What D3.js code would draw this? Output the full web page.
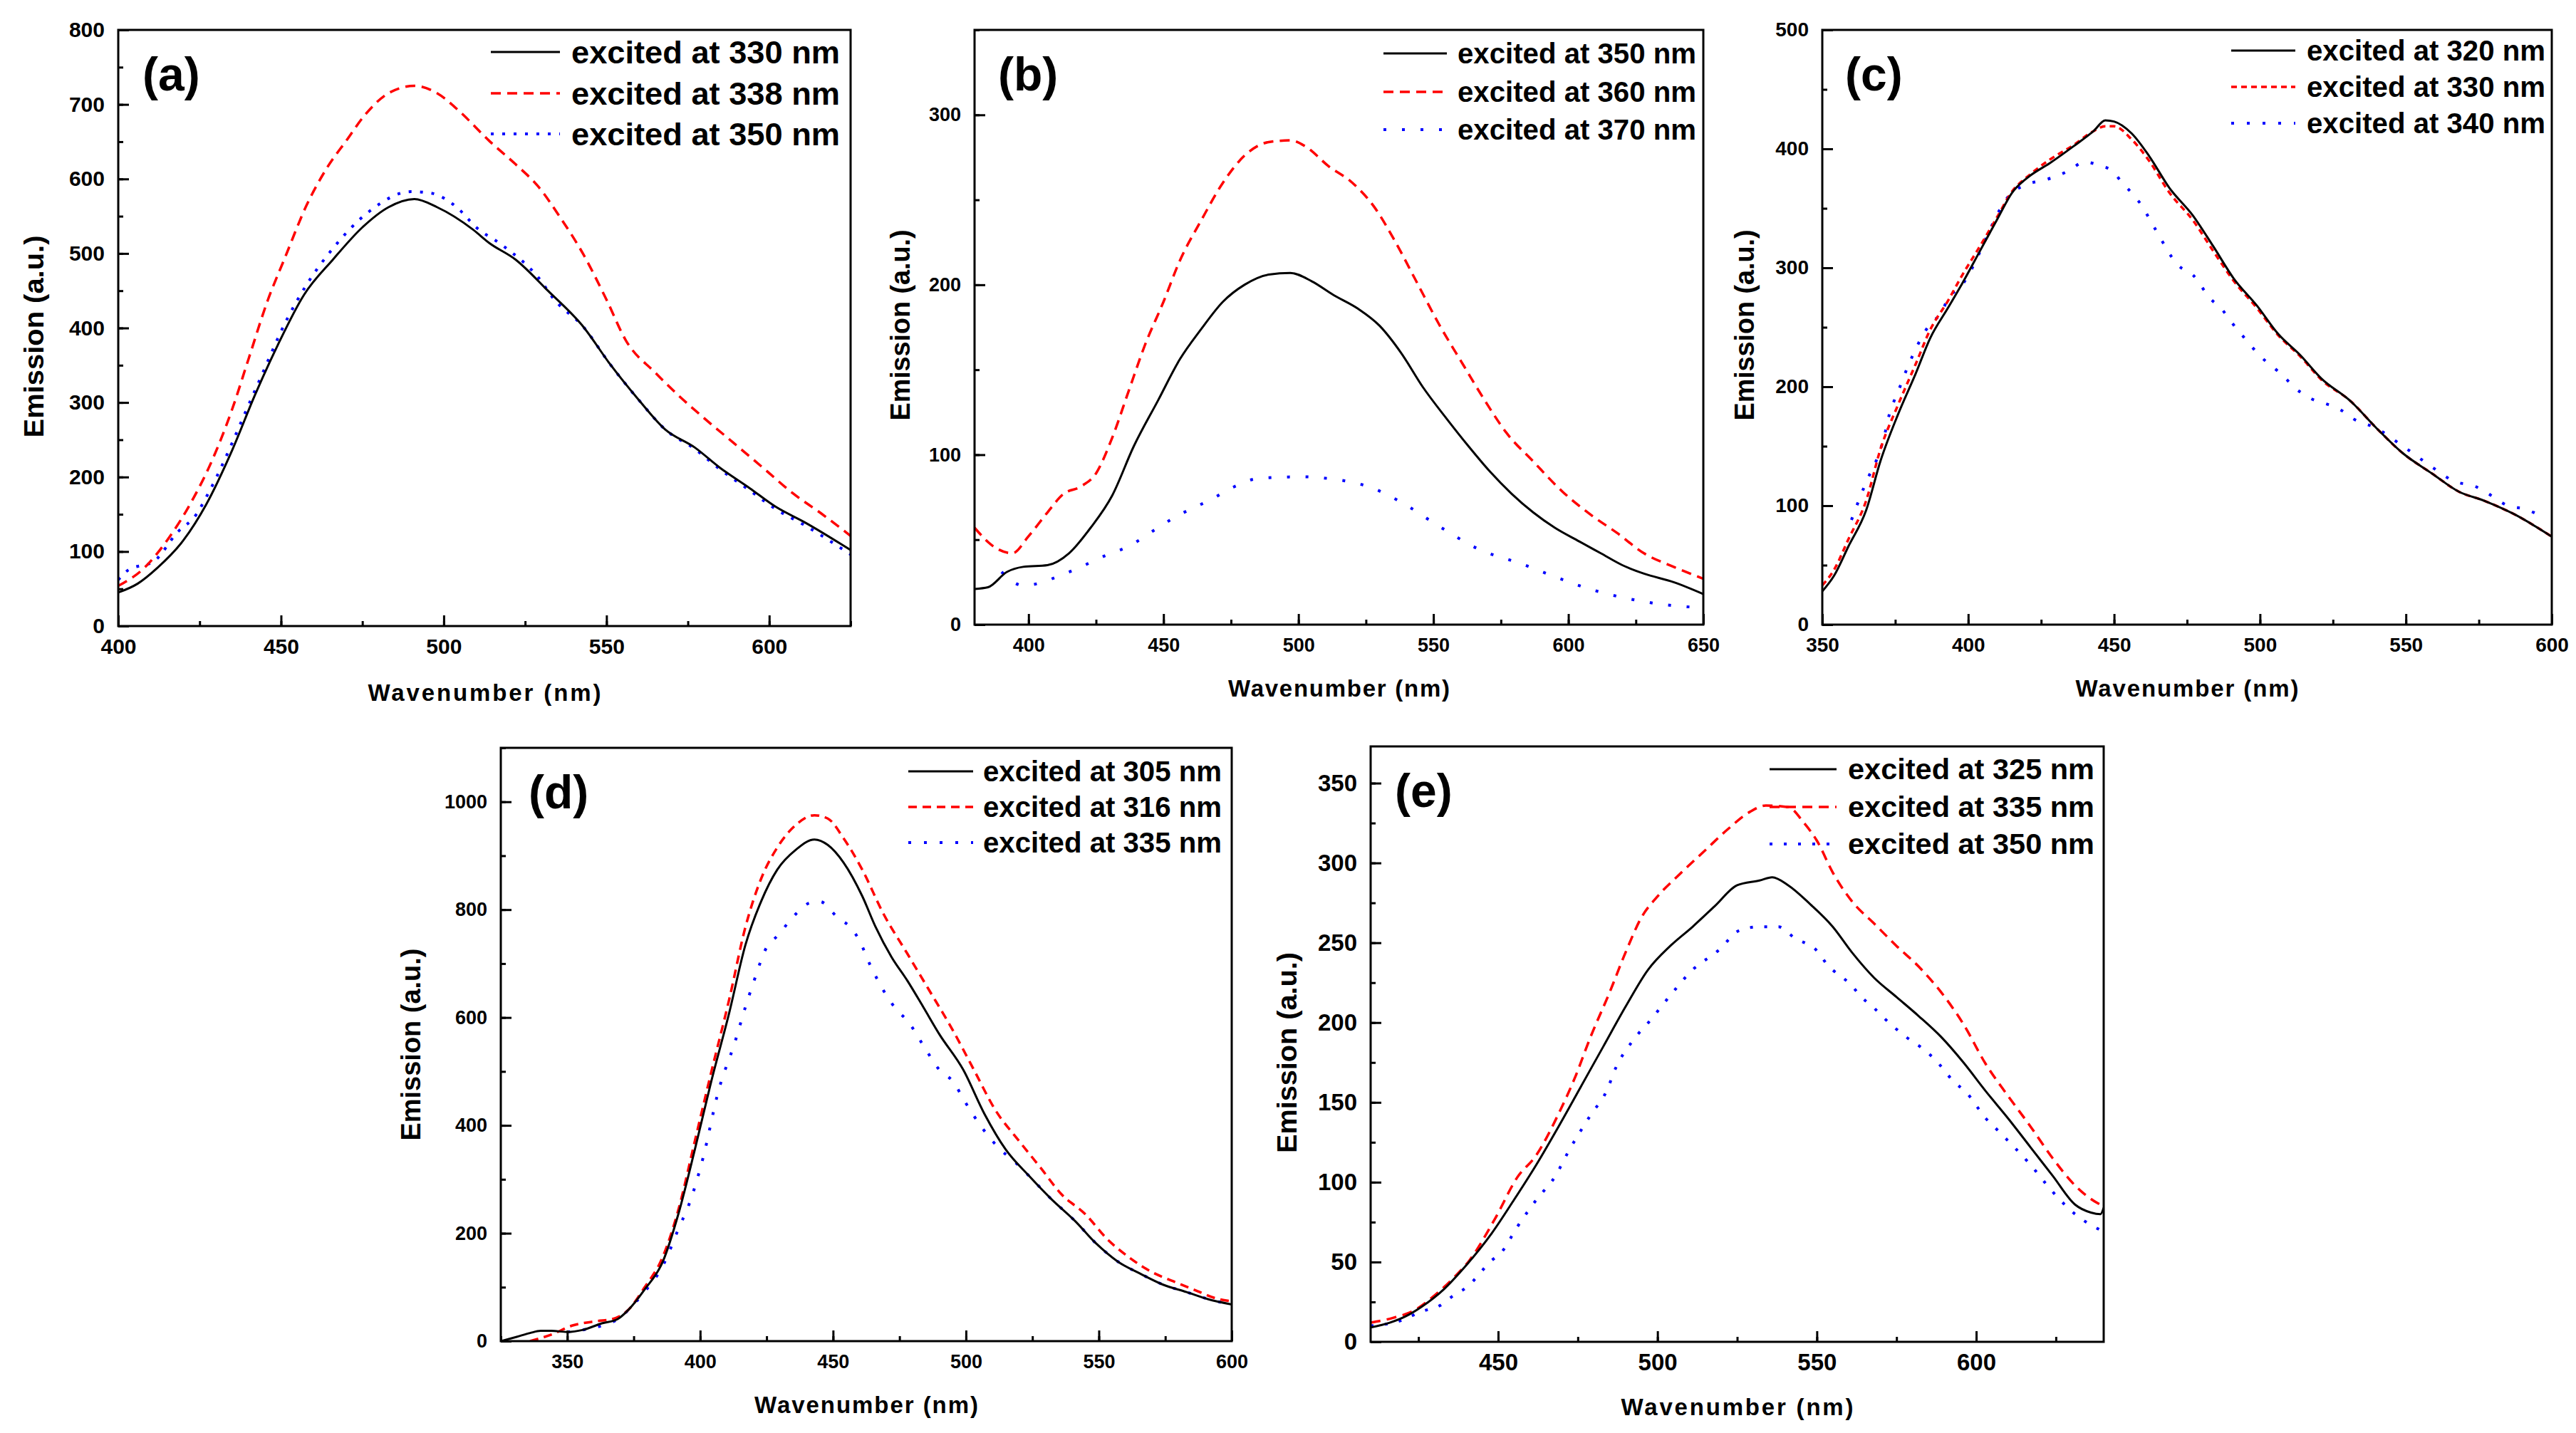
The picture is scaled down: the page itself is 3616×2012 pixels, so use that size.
<!DOCTYPE html>
<html>
<head>
<meta charset="utf-8">
<script src="https://cdnjs.cloudflare.com/ajax/libs/d3/7.8.5/d3.min.js"></script>
<style>
  body { margin: 0; background: #fff; }
  svg text { font-family: "Liberation Sans", Arial, sans-serif; font-weight: bold; fill: #000; }
</style>
</head>
<body>
<svg id="chart"></svg>
<script>
// ---- data: [wavelength nm, emission a.u.] ----

// (a)
var aNames = ["excited at 330 nm", "excited at 338 nm", "excited at 350 nm"];
var a330 = [[400,45],[406,57],[412,78],[420,115],[427,163],[435,236],[442,310],[449,377],[457,444],[466,492],[475,535],[483,562],[491,573],[498,562],[509,532],[514,514],[522,492],[532,450],[543,401],[551,352],[560,303],[568,264],[577,240],[585,212],[594,185],[602,160],[611,139],[625,102]];
var a338 = [[400,54],[408,78],[415,115],[422,163],[429,224],[435,291],[440,358],[446,438],[451,492],[458,566],[464,614],[470,651],[476,687],[483,715],[491,725],[498,715],[505,690],[514,651],[522,620],[529,590],[536,547],[543,498],[550,438],[556,383],[565,340],[572,310],[580,279],[589,246],[599,209],[607,179],[616,151],[625,121]];
var a350 = [[400,62],[403,75],[411,87],[418,125],[424,150],[428,181],[442,316],[452,413],[458,459],[466,507],[477,556],[490,583],[496,581],[504,562],[510,535],[518,511],[529,468],[534,438],[543,401],[551,352],[560,303],[568,264],[577,238],[585,210],[594,182],[602,157],[611,135],[625,96]];
var aXTicks = [400, 450, 500, 550, 600];
var aYTicks = [0, 100, 200, 300, 400, 500, 600, 700, 800];

// (b)
var bNames = ["excited at 350 nm", "excited at 360 nm", "excited at 370 nm"];
var b350 = [[380,21],[385,22],[392,31],[398,34],[407,35],[415,42],[423,57],[431,76],[439,105],[448,132],[456,156],[464,174],[472,190],[480,200],[489,206],[497,207],[505,202],[513,194],[522,186],[530,176],[538,160],[546,140],[555,121],[563,105],[571,90],[579,77],[587,66],[595,57],[604,49],[612,42],[620,35],[628,30],[639,25],[650,18]];
var b360 = [[380,57],[388,45],[394,42],[400,52],[407,66],[413,77],[419,81],[425,89],[431,110],[437,137],[443,164],[450,190],[456,214],[464,238],[472,260],[480,276],[489,284],[497,285],[503,281],[511,270],[520,260],[528,246],[536,225],[544,201],[552,177],[561,153],[569,132],[577,113],[587,96],[598,78],[608,65],[618,54],[628,42],[639,34],[650,27]];
var b370 = [[390,31],[398,23],[415,31],[429,41],[437,46],[446,55],[454,63],[468,74],[476,81],[485,86],[501,87],[511,86],[528,80],[537,73],[553,57],[566,45],[584,35],[592,30],[610,20],[623,15],[640,11],[650,10]];
var bXTicks = [400, 450, 500, 550, 600, 650];
var bYTicks = [0, 100, 200, 300];

// (c)
var cNames = ["excited at 320 nm", "excited at 330 nm", "excited at 340 nm"];
var c320 = [[350,28],[354,41],[359,66],[365,96],[370,138],[376,177],[382,211],[387,241],[393,266],[398,287],[404,314],[410,341],[415,363],[421,377],[428,388],[436,402],[443,415],[447,424],[450,423],[456,413],[462,394],[469,367],[477,344],[484,318],[491,291],[499,268],[506,245],[514,226],[521,207],[531,188],[540,165],[549,144],[559,127],[568,112],[577,104],[587,93],[600,74]];
var c330 = [[350,33],[354,46],[359,72],[365,104],[370,148],[376,185],[382,219],[387,248],[393,272],[398,294],[404,318],[410,343],[415,364],[421,378],[428,391],[436,403],[443,415],[447,419],[450,419],[456,408],[462,390],[469,363],[477,340],[484,314],[491,289],[499,266],[506,244],[514,225],[521,206],[531,188],[540,165],[549,144],[559,127],[568,112],[577,104],[587,93],[600,74]];
var c340 = [[360,88],[366,125],[368,135],[371,156],[373,177],[376,196],[379,215],[387,253],[391,263],[393,274],[397,283],[415,363],[421,371],[425,373],[434,381],[440,389],[445,386],[449,382],[453,371],[456,363],[459,354],[464,333],[472,302],[477,294],[483,274],[487,265],[490,255],[494,243],[500,226],[508,209],[512,199],[516,192],[528,180],[532,173],[540,165],[549,150],[561,129],[566,121],[574,116],[577,112],[585,100],[591,97],[598,89]];
var cXTicks = [350, 400, 450, 500, 550, 600];
var cYTicks = [0, 100, 200, 300, 400, 500];

// (d)
var dNames = ["excited at 305 nm", "excited at 316 nm", "excited at 335 nm"];
var d305 = [[325,0],[331,8],[336,15],[340,19],[344,19],[350,17],[356,21],[363,33],[369,41],[373,58],[379,95],[386,148],[392,239],[398,355],[404,478],[411,610],[417,734],[423,816],[429,874],[436,911],[443,930],[448,920],[454,887],[461,825],[466,768],[472,712],[478,668],[484,619],[490,569],[499,503],[507,421],[515,355],[524,305],[532,264],[541,223],[549,181],[557,148],[566,124],[574,105],[583,91],[591,78],[600,68]];
var d316 = [[336,0],[344,12],[352,29],[361,37],[367,41],[373,58],[379,99],[386,157],[392,247],[398,371],[404,495],[411,635],[417,767],[423,858],[429,915],[436,957],[443,975],[448,969],[454,932],[461,874],[469,792],[478,718],[486,652],[495,577],[503,503],[511,429],[520,371],[528,322],[536,272],[545,235],[553,190],[562,153],[570,128],[578,111],[586,95],[595,78],[600,74]];
var d335 = [[350,17],[369,40],[373,58],[379,91],[386,140],[392,210],[396,256],[401,338],[407,466],[413,553],[417,619],[420,664],[425,730],[429,751],[436,792],[441,812],[445,815],[452,784],[457,765],[460,742],[464,697],[474,614],[478,594],[484,548],[490,503],[495,482],[500,441],[506,396],[513,355],[518,334],[524,305],[532,264],[541,223],[549,181],[557,148],[566,124],[574,105],[583,91],[591,78],[600,68]];
var dXTicks = [350, 400, 450, 500, 550, 600];
var dYTicks = [0, 200, 400, 600, 800, 1000];

// (e)
var eNames = ["excited at 325 nm", "excited at 335 nm", "excited at 350 nm"];
var e325 = [[410,9],[416,12],[421,16],[426,22],[433,33],[440,48],[448,68],[455,89],[462,111],[469,135],[476,160],[483,185],[490,210],[497,233],[504,248],[511,260],[518,273],[525,286],[532,289],[536,291],[541,286],[548,274],[555,260],[561,244],[568,228],[575,216],[582,204],[589,191],[596,175],[603,157],[610,140],[617,122],[624,104],[631,86],[636,81],[639,80],[640,84]];
var e335 = [[410,12],[417,15],[424,20],[430,29],[436,40],[441,51],[449,77],[456,103],[462,117],[469,143],[474,165],[479,191],[485,219],[490,244],[495,266],[500,279],[507,293],[515,308],[522,321],[529,332],[534,336],[541,335],[546,325],[550,314],[555,294],[561,276],[568,262],[575,248],[582,235],[589,219],[596,199],[603,174],[610,154],[617,135],[624,115],[631,98],[638,87],[640,85]];
var e350 = [[410,10],[419,13],[426,19],[432,23],[436,29],[440,34],[448,51],[451,56],[456,72],[462,89],[468,104],[472,119],[479,142],[484,157],[487,172],[492,188],[498,202],[504,217],[511,233],[519,245],[526,258],[532,260],[538,260],[543,253],[550,245],[553,237],[561,223],[564,216],[568,209],[571,203],[578,191],[583,184],[587,177],[593,163],[597,156],[603,140],[607,132],[617,111],[624,94],[631,80],[639,70]];
var eXTicks = [450, 500, 550, 600];
var eYTicks = [0, 50, 100, 150, 200, 250, 300, 350];

var W = 3616, H = 2012;

var svg = d3.select("#chart")
  .attr("width", W)
  .attr("height", H);

svg.append("rect").attr("width", W).attr("height", H).attr("fill", "#fff");

// layout of each panel (pixel boxes measured on the reference)
var panels = [
  { tag: "(a)", box: [166, 42, 1194, 879], xDom: [400, 625], yDom: [0, 800],
    xTicks: aXTicks, xMinor: 25, yTicks: aYTicks, yMinor: 50, tickFont: 30,
    series: [a330, a338, a350], names: aNames,
    redDash: "14,9", blueDash: "4,12",
    leg: { l0: -505, l1: -408, tx: -392, tl: 377, rows: [31, 89, 146], font: 45 },
    yt: { off: 118, dy: 12, len: 284 }, xt: { dy: 93, len: 327 }, tagDx: 34 },
  { tag: "(b)", box: [1368, 42, 2391, 877], xDom: [380, 650], yDom: [0, 350],
    xTicks: bXTicks, xMinor: 25, yTicks: bYTicks, yMinor: 50, tickFont: 27,
    series: [b350, b360, b370], names: bNames,
    redDash: "14,9", blueDash: "4,22",
    leg: { l0: -449, l1: -360, tx: -345, tl: 335, rows: [33, 87, 140], font: 40 },
    yt: { off: 104, dy: -3, len: 268 }, xt: { dy: 89, len: 311 }, tagDx: 33 },
  { tag: "(c)", box: [2558, 42, 3582, 877], xDom: [350, 600], yDom: [0, 500],
    xTicks: cXTicks, xMinor: 25, yTicks: cYTicks, yMinor: 50, tickFont: 28,
    series: [c320, c330, c340], names: cNames,
    redDash: "8,6", blueDash: "4,18",
    leg: { l0: -450, l1: -360, tx: -344, tl: 335, rows: [29, 80, 131], font: 40 },
    yt: { off: 109, dy: -3, len: 268 }, xt: { dy: 89, len: 313 }, tagDx: 32 },
  { tag: "(d)", box: [703, 1050, 1729, 1883], xDom: [325, 600], yDom: [0, 1100],
    xTicks: dXTicks, xMinor: 25, yTicks: dYTicks, yMinor: 100, tickFont: 27,
    series: [d305, d316, d335], names: dNames,
    redDash: "12,8", blueDash: "4,18",
    leg: { l0: -454, l1: -363, tx: -349, tl: 335, rows: [33, 83, 133], font: 40 },
    yt: { off: 126, dy: 0, len: 270 }, xt: { dy: 89, len: 314 }, tagDx: 39 },
  { tag: "(e)", box: [1924, 1048, 2953, 1884], xDom: [410, 640], yDom: [0, 373],
    xTicks: eXTicks, xMinor: 25, yTicks: eYTicks, yMinor: 25, tickFont: 33,
    series: [e325, e335, e350], names: eNames,
    redDash: "14,9", blueDash: "4,16",
    leg: { l0: -469, l1: -375, tx: -359, tl: 346, rows: [32, 85, 137], font: 41 },
    yt: { off: 117, dy: 12, len: 282 }, xt: { dy: 91, len: 326 }, tagDx: 34 }
];

var colors = ["#000000", "#ff0000", "#0000ff"];
var widths = [3, 3.5, 4];

function minorValues(dom, step) {
  var out = [];
  var start = Math.ceil(dom[0] / step) * step;
  for (var v = start; v <= dom[1] + 1e-9; v += step) out.push(v);
  return out;
}

function drawPanel(p, idx) {
  var x0 = p.box[0], y0 = p.box[1], x1 = p.box[2], y1 = p.box[3];
  var x = d3.scaleLinear().domain(p.xDom).range([x0, x1]);
  var y = d3.scaleLinear().domain(p.yDom).range([y1, y0]);
  var g = svg.append("g");

  var clipId = "clip" + idx;
  g.append("clipPath").attr("id", clipId)
    .append("rect").attr("x", x0).attr("y", y0).attr("width", x1 - x0).attr("height", y1 - y0);

  var line = d3.line()
    .x(function (d) { return x(d[0]); })
    .y(function (d) { return y(d[1]); })
    .curve(d3.curveMonotoneX);

  var dashes = [null, p.redDash, p.blueDash];

  // blue first, then red, black on top
  [2, 1, 0].forEach(function (i) {
    g.append("path")
      .datum(p.series[i])
      .attr("clip-path", "url(#" + clipId + ")")
      .attr("fill", "none")
      .attr("stroke", colors[i])
      .attr("stroke-width", widths[i])
      .attr("stroke-dasharray", dashes[i])
      .attr("d", line);
  });

  // minor ticks
  g.append("g").attr("transform", "translate(0," + y1 + ")")
    .call(d3.axisBottom(x).tickValues(minorValues(p.xDom, p.xMinor)).tickSize(-7).tickFormat(""))
    .call(function (s) { s.select(".domain").remove(); })
    .selectAll("line").attr("stroke-width", 3);
  g.append("g").attr("transform", "translate(" + x0 + ",0)")
    .call(d3.axisLeft(y).tickValues(minorValues(p.yDom, p.yMinor)).tickSize(-7).tickFormat(""))
    .call(function (s) { s.select(".domain").remove(); })
    .selectAll("line").attr("stroke-width", 3);

  // major ticks + labels
  var fmt = d3.format("d");
  var xa = g.append("g").attr("transform", "translate(0," + y1 + ")")
    .call(d3.axisBottom(x).tickValues(p.xTicks).tickFormat(fmt).tickSize(-15).tickPadding(28 - 0.35 * p.tickFont));
  xa.select(".domain").remove();
  xa.selectAll("line").attr("stroke-width", 3);
  xa.selectAll("text").attr("font-size", p.tickFont).attr("font-family", null);

  var ya = g.append("g").attr("transform", "translate(" + x0 + ",0)")
    .call(d3.axisLeft(y).tickValues(p.yTicks).tickFormat(fmt).tickSize(-15).tickPadding(19));
  ya.select(".domain").remove();
  ya.selectAll("line").attr("stroke-width", 3);
  ya.selectAll("text").attr("font-size", p.tickFont).attr("font-family", null);

  // frame
  g.append("rect")
    .attr("x", x0).attr("y", y0)
    .attr("width", x1 - x0).attr("height", y1 - y0)
    .attr("fill", "none").attr("stroke", "#000").attr("stroke-width", 3);

  // panel tag
  g.append("text")
    .attr("x", x0 + p.tagDx).attr("y", y0 + 85)
    .attr("font-size", 66)
    .text(p.tag);

  // legend
  var L = p.leg;
  p.names.forEach(function (name, i) {
    var ry = y0 + L.rows[i];
    g.append("line")
      .attr("x1", x1 + L.l0).attr("x2", x1 + L.l1)
      .attr("y1", ry).attr("y2", ry)
      .attr("stroke", colors[i])
      .attr("stroke-width", widths[i])
      .attr("stroke-dasharray", dashes[i]);
    g.append("text")
      .attr("x", x1 + L.tx).attr("y", ry)
      .attr("dy", "0.35em")
      .attr("font-size", L.font)
      .attr("textLength", L.tl)
      .attr("lengthAdjust", "spacingAndGlyphs")
      .text(name);
  });

  // axis titles
  g.append("text")
    .attr("x", (x0 + x1) / 2).attr("y", y1 + p.xt.dy)
    .attr("dy", "0.35em")
    .attr("text-anchor", "middle")
    .attr("font-size", 33)
    .attr("textLength", p.xt.len)
    .attr("lengthAdjust", "spacing")
    .text("Wavenumber (nm)");

  g.append("text")
    .attr("transform", "translate(" + (x0 - p.yt.off) + "," + ((y0 + y1) / 2 + p.yt.dy) + ") rotate(-90)")
    .attr("dy", "0.35em")
    .attr("text-anchor", "middle")
    .attr("font-size", 38)
    .attr("textLength", p.yt.len)
    .attr("lengthAdjust", "spacingAndGlyphs")
    .text("Emission (a.u.)");
}

panels.forEach(drawPanel);
</script>
</body>
</html>
